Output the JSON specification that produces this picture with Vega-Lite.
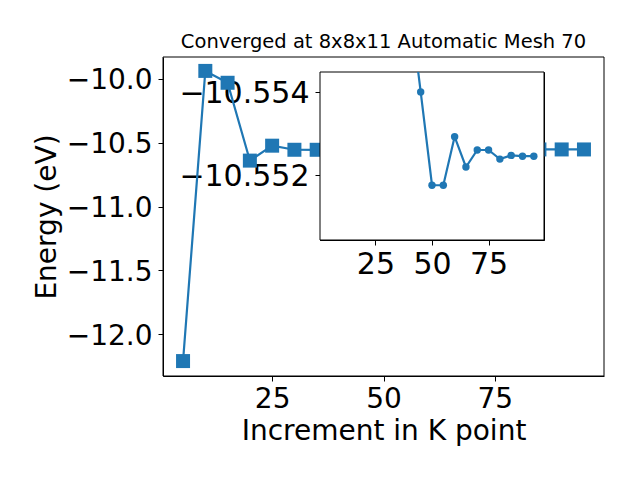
{
  "$schema": "https://vega.github.io/schema/vega-lite/v6.json",
  "autosize": "none",
  "width": 224,
  "height": 168,
  "padding": {"left": 320, "top": 72, "right": 96, "bottom": 240},
  "config": {
    "font": "DejaVu Sans",
    "view": {"stroke": "black", "strokeWidth": 1},
    "axis": {
      "grid": false,
      "domainColor": "black",
      "tickColor": "black",
      "labelColor": "black",
      "titleColor": "black",
      "tickSize": 5,
      "tickWidth": 1,
      "labelPadding": 4,
      "labelFontSize": 28,
      "titleFontSize": 28,
      "titleFontWeight": "normal",
      "labelFont": "DejaVu Sans",
      "titleFont": "DejaVu Sans"
    }
  },
  "title": {"text": "Converged at 8x8x11 Automatic Mesh 70", "fontSize": 19.5, "fontWeight": "normal", "font": "DejaVu Sans", "color": "black", "anchor": "middle", "offset": 4, "dx": -48.5},
  "datasets": {
    "energy": [
      {"k": 5, "e": -12.211},
      {"k": 10, "e": -9.937},
      {"k": 15, "e": -10.03},
      {"k": 20, "e": -10.64},
      {"k": 25, "e": -10.523},
      {"k": 30, "e": -10.555},
      {"k": 35, "e": -10.5552},
      {"k": 40, "e": -10.5562},
      {"k": 45, "e": -10.554},
      {"k": 50, "e": -10.55175},
      {"k": 55, "e": -10.55175},
      {"k": 60, "e": -10.55292},
      {"k": 65, "e": -10.55219},
      {"k": 70, "e": -10.5526},
      {"k": 75, "e": -10.5526},
      {"k": 80, "e": -10.55238},
      {"k": 85, "e": -10.55247},
      {"k": 90, "e": -10.55245},
      {"k": 95, "e": -10.55245}
    ]
  },
  "layer": [
    {
      "data": {"values": [{"box": "main"}]},
      "mark": {"type": "rect", "filled": false, "stroke": "black", "strokeWidth": 1},
      "encoding": {
        "x": {"datum": 0.5, "type": "quantitative", "scale": {"domain": [0.5, 99.5], "range": [-157, 284], "nice": false, "zero": false}, "axis": null},
        "x2": {"datum": 99.5},
        "y": {"datum": -9.828, "type": "quantitative", "scale": {"domain": [-12.328, -9.828], "range": [304, -15], "nice": false, "zero": false}, "axis": null},
        "y2": {"datum": -12.328}
      }
    },
    {
      "data": {"name": "energy"},
      "mark": {"type": "line", "color": "#1f77b4", "strokeWidth": 2.2, "point": {"shape": "square", "size": 196, "filled": true, "opacity": 1, "color": "#1f77b4"}},
      "encoding": {
        "x": {"field": "k", "type": "quantitative", "scale": {"domain": [0.5, 99.5], "range": [-157, 284], "nice": false, "zero": false},
              "axis": {"orient": "bottom", "offset": 136, "values": [25, 50, 75], "title": "Increment in K point", "titlePadding": 4}},
        "y": {"field": "e", "type": "quantitative", "scale": {"domain": [-12.328, -9.828], "range": [304, -15], "nice": false, "zero": false},
              "axis": {"orient": "left", "offset": 157, "values": [-12, -11.5, -11, -10.5, -10], "format": ".1f", "title": "Energy (eV)", "titlePadding": 5, "labelPadding": 6, "labelOffset": 2}}
      }
    },
    {
      "data": {"values": [{"box": "inset"}]},
      "mark": {"type": "rect", "fill": "white", "stroke": "black", "strokeWidth": 1},
      "encoding": {
        "x": {"datum": 0.5, "type": "quantitative", "scale": {"domain": [0.5, 99.5], "nice": false, "zero": false}, "axis": null},
        "x2": {"datum": 99.5},
        "y": {"datum": -10.55448, "type": "quantitative", "scale": {"domain": [-10.55448, -10.55043], "nice": false, "zero": false, "reverse": true}, "axis": null},
        "y2": {"datum": -10.55043}
      }
    },
    {
      "data": {"name": "energy"},
      "transform": [{"filter": "datum.k >= 40"}],
      "mark": {"type": "line", "clip": true, "color": "#1f77b4", "strokeWidth": 2.2, "point": {"shape": "circle", "size": 55, "filled": true, "opacity": 1, "color": "#1f77b4"}},
      "encoding": {
        "x": {"field": "k", "type": "quantitative", "scale": {"domain": [0.5, 99.5], "nice": false, "zero": false},
              "axis": {"orient": "bottom", "values": [25, 50, 75], "title": null, "labelFontSize": 30}},
        "y": {"field": "e", "type": "quantitative", "scale": {"domain": [-10.55448, -10.55043], "nice": false, "zero": false, "reverse": true},
              "axis": {"orient": "left", "values": [-10.554, -10.552], "format": ".3f", "title": null, "labelFontSize": 30, "labelPadding": 6, "labelOffset": 2}}
      }
    }
  ],
  "resolve": {"scale": {"x": "independent", "y": "independent"}, "axis": {"x": "independent", "y": "independent"}}
}
